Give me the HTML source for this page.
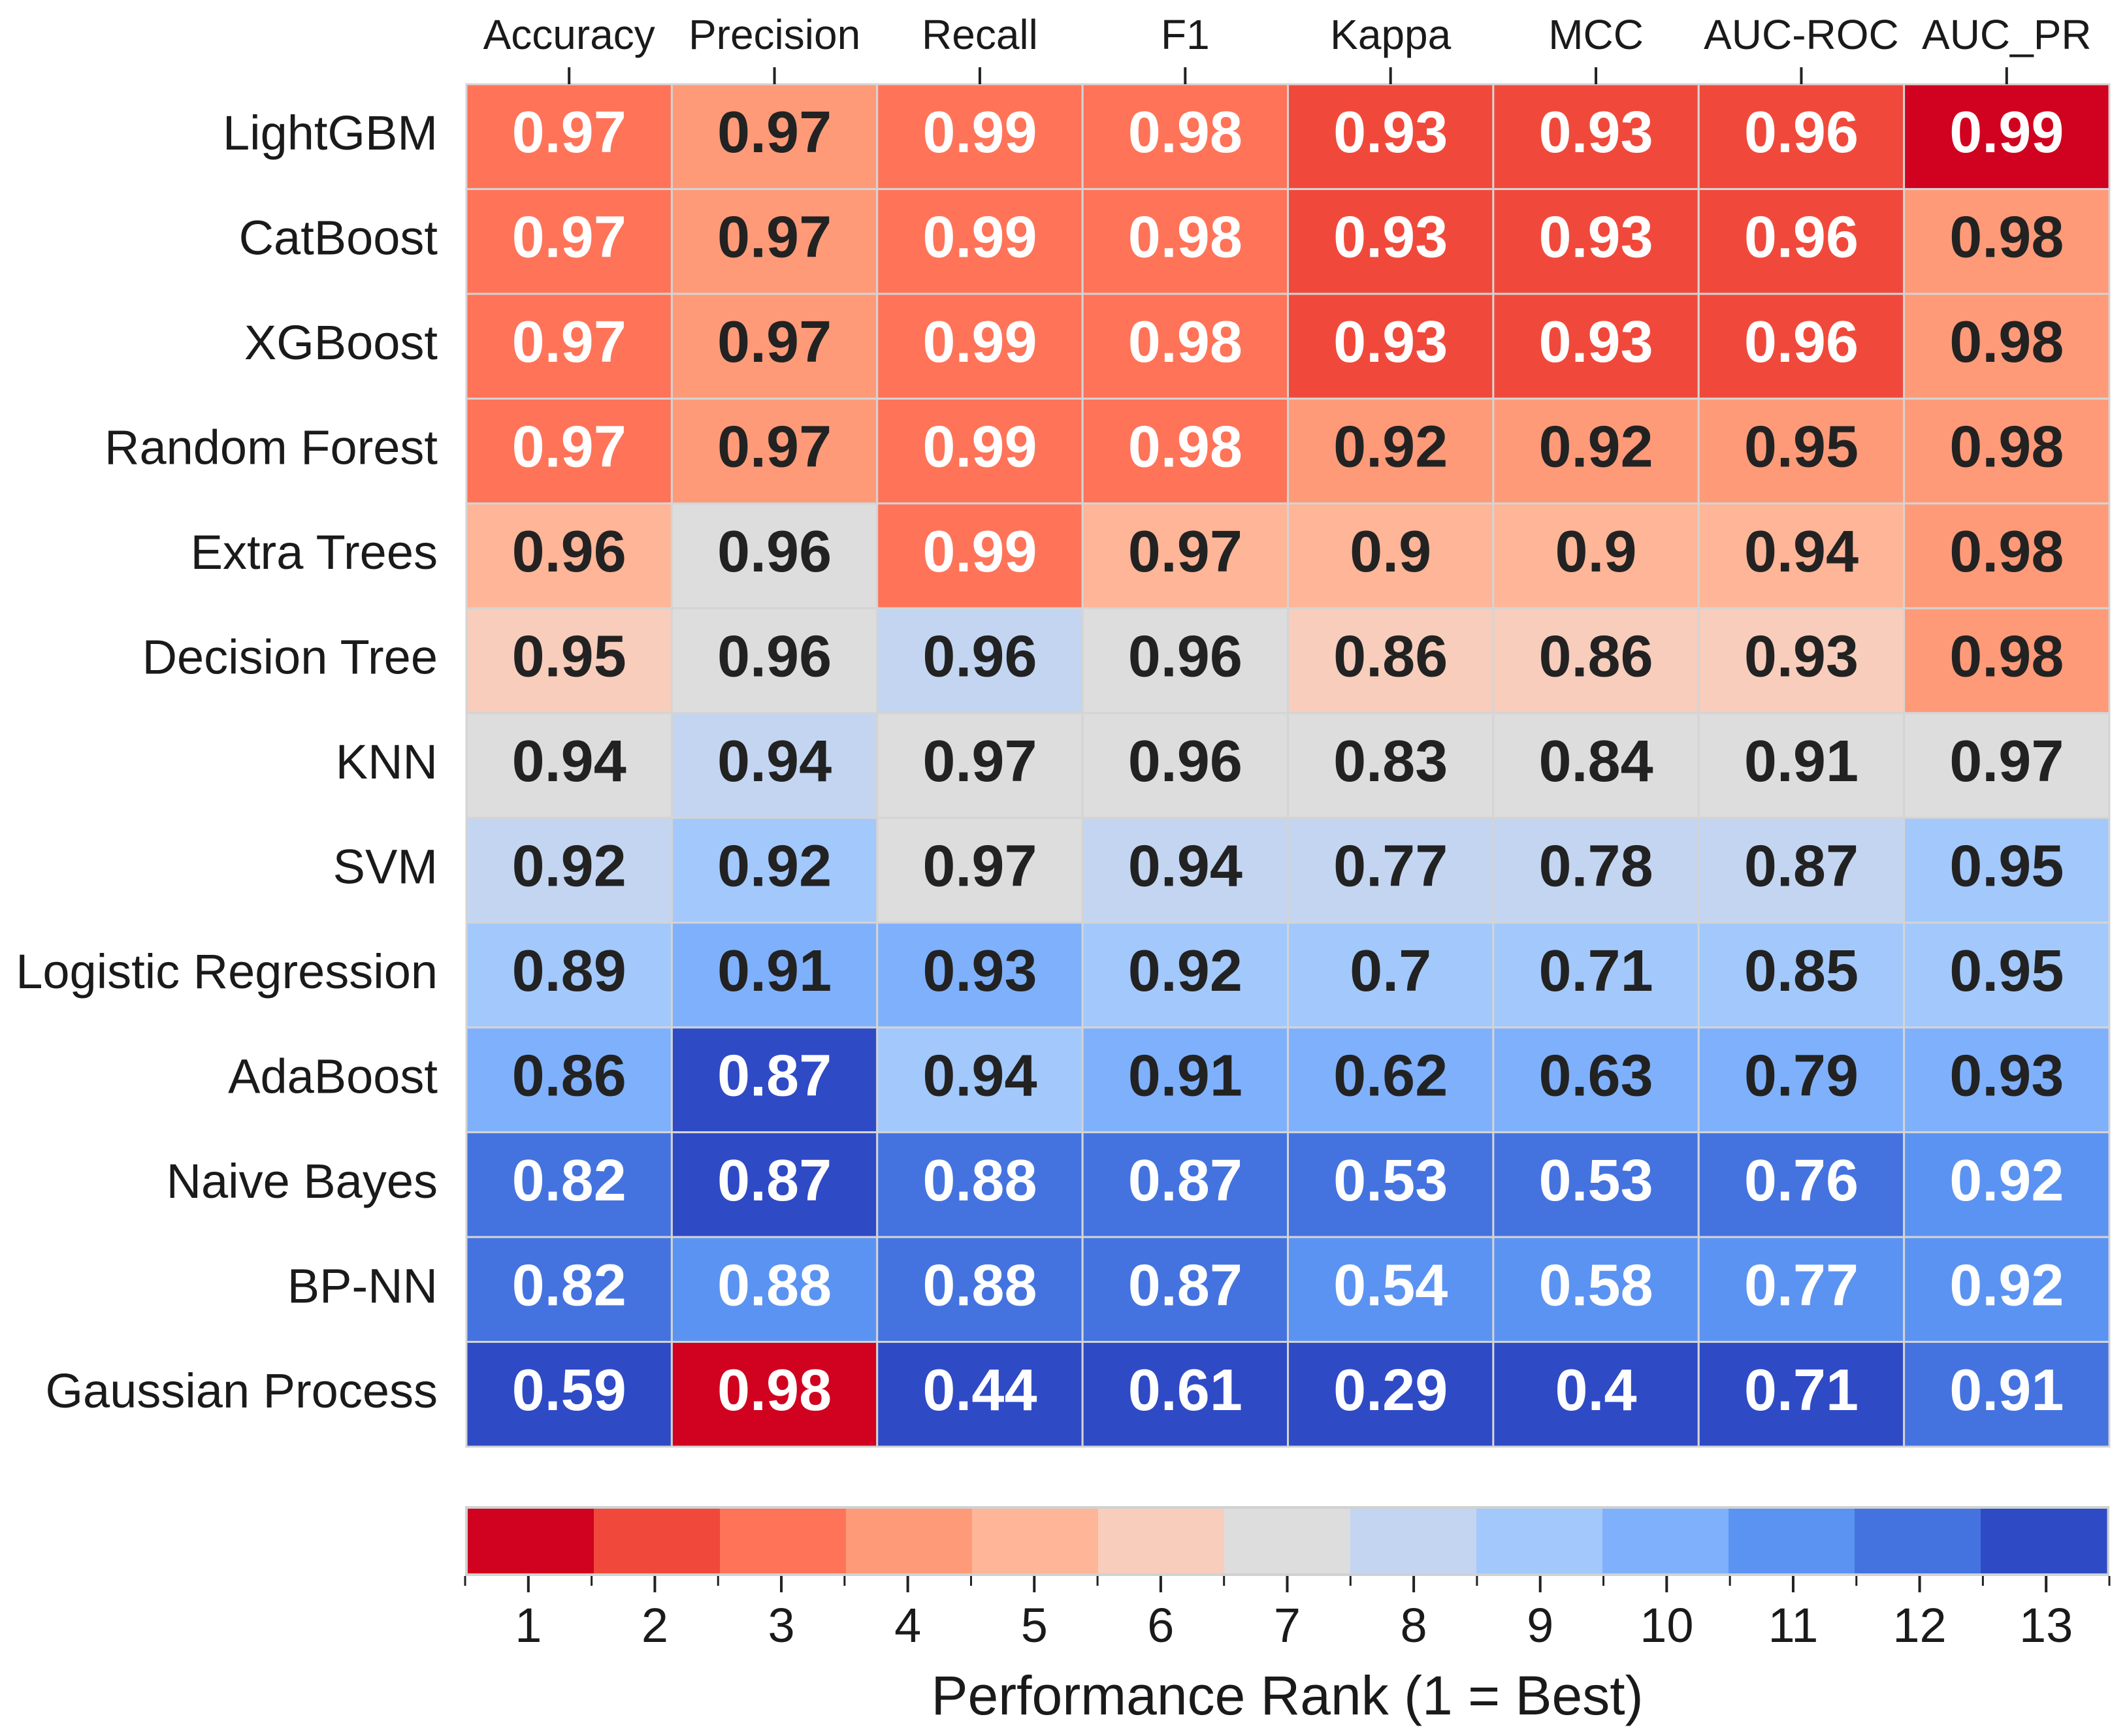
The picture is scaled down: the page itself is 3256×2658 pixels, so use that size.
<!DOCTYPE html>
<html><head><meta charset="utf-8"><style>
html,body{margin:0;padding:0;background:#fff;}
svg{display:block;font-family:"Liberation Sans",Arial,sans-serif;}
</style></head><body>
<svg id="chart" width="3256" height="2658" viewBox="0 0 3256 2658" xmlns="http://www.w3.org/2000/svg"></svg>
<script>
const models = ["LightGBM","CatBoost","XGBoost","Random Forest","Extra Trees","Decision Tree","KNN","SVM","Logistic Regression","AdaBoost","Naive Bayes","BP-NN","Gaussian Process"];
const metrics = ["Accuracy","Precision","Recall","F1","Kappa","MCC","AUC-ROC","AUC_PR"];
const values = [
 ["0.97","0.97","0.99","0.98","0.93","0.93","0.96","0.99"],
 ["0.97","0.97","0.99","0.98","0.93","0.93","0.96","0.98"],
 ["0.97","0.97","0.99","0.98","0.93","0.93","0.96","0.98"],
 ["0.97","0.97","0.99","0.98","0.92","0.92","0.95","0.98"],
 ["0.96","0.96","0.99","0.97","0.9","0.9","0.94","0.98"],
 ["0.95","0.96","0.96","0.96","0.86","0.86","0.93","0.98"],
 ["0.94","0.94","0.97","0.96","0.83","0.84","0.91","0.97"],
 ["0.92","0.92","0.97","0.94","0.77","0.78","0.87","0.95"],
 ["0.89","0.91","0.93","0.92","0.7","0.71","0.85","0.95"],
 ["0.86","0.87","0.94","0.91","0.62","0.63","0.79","0.93"],
 ["0.82","0.87","0.88","0.87","0.53","0.53","0.76","0.92"],
 ["0.82","0.88","0.88","0.87","0.54","0.58","0.77","0.92"],
 ["0.59","0.98","0.44","0.61","0.29","0.4","0.71","0.91"]
];
const ranks = [
 [3,4,3,3,2,2,2,1],
 [3,4,3,3,2,2,2,4],
 [3,4,3,3,2,2,2,4],
 [3,4,3,3,4,4,4,4],
 [5,7,3,5,5,5,5,4],
 [6,7,8,7,6,6,6,4],
 [7,8,7,7,7,7,7,7],
 [8,9,7,8,8,8,8,9],
 [9,10,10,9,9,9,9,9],
 [10,13,9,10,10,10,10,10],
 [12,13,12,12,12,12,12,11],
 [12,11,12,12,11,11,11,11],
 [13,1,13,13,13,13,13,12]
];
const rankTicks = [1,2,3,4,5,6,7,8,9,10,11,12,13];
const palette = ["#d0021f","#f0493b","#ff7358","#ff9a78","#ffb597","#f8cdbc","#dddddd","#c3d5f1","#a3c8fb","#7fb0fb","#5b93f2","#4473e0","#2f4ac5"];

const NS="http://www.w3.org/2000/svg";
const svg=document.getElementById('chart');
function mk(t,a,p){const e=document.createElementNS(NS,t);for(const k in a)e.setAttribute(k,a[k]);(p||svg).appendChild(e);return e;}
const X0=714,X1=3229,Y0=129,Y1=2215;
const cw=(X1-X0)/metrics.length, rh=(Y1-Y0)/models.length;
const xc=i=>X0+cw*(i+0.5), yc=j=>Y0+rh*(j+0.5);
const colorOf=r=>palette[r-1];

const cellsG=mk('g',{});


models.forEach((m,j)=>{
  metrics.forEach((k,i)=>{
    const r=ranks[j][i];
    const rect=mk('rect',{x:X0+cw*i,y:Y0+rh*j,width:cw,height:rh,fill:colorOf(r),stroke:'#d4d4d4','stroke-width':3},cellsG);
    
    
    const t=mk('text',{x:xc(i),y:yc(j)+24,'text-anchor':'middle','font-size':90,'font-weight':'bold',fill:(r<=3||r>=11)?'#ffffff':'#222222'},cellsG);
    t.textContent=values[j][i];
    
    
  });
});
metrics.forEach((k,i)=>{
  const l=mk('line',{x1:xc(i),x2:xc(i),y1:103,y2:Y0,stroke:'#222',"stroke-width":4});
  
  
  const t=mk('text',{x:xc(i),y:75,'text-anchor':'middle','font-size':64,fill:'#1a1a1a'});
  t.textContent=k;
  
  
});
models.forEach((m,j)=>{
  const t=mk('text',{x:670,y:yc(j)+20,'text-anchor':'end','font-size':74,fill:'#1a1a1a'});
  t.textContent=m;
  
  
});
// colorbar
const CX0=712,CX1=3229,CY0=2306,CY1=2413;
const bw=(CX1-CX0)/rankTicks.length;
const cb=mk('rect',{x:CX0,y:CY0,width:CX1-CX0,height:CY1-CY0,fill:'#cfd2d2'});


rankTicks.forEach((r,i)=>{
  const s=mk('rect',{x:CX0+4+(CX1-CX0-8)/rankTicks.length*i,y:CY0+4,width:(CX1-CX0-8)/rankTicks.length+0.5,height:CY1-CY0-8,fill:colorOf(r)});
  
  
  const cx=CX0+bw*(i+0.5);
  const tk=mk('line',{x1:cx,x2:cx,y1:CY1,y2:2438,stroke:'#222','stroke-width':4});
  
  
  const t=mk('text',{x:cx,y:2514,'text-anchor':'middle','font-size':74,fill:'#1a1a1a'});
  t.textContent=r;
  
  
});
for(let i=0;i<=rankTicks.length;i++){
  const bx=CX0+bw*i;
  const mt=mk('line',{x1:bx,x2:bx,y1:CY1,y2:2428,stroke:'#222','stroke-width':3});
  
  
}
const title=mk('text',{x:(CX0+CX1)/2,y:2625,'text-anchor':'middle','font-size':84,fill:'#1a1a1a'});
title.textContent='Performance Rank (1 = Best)';


</script>
</body></html>
